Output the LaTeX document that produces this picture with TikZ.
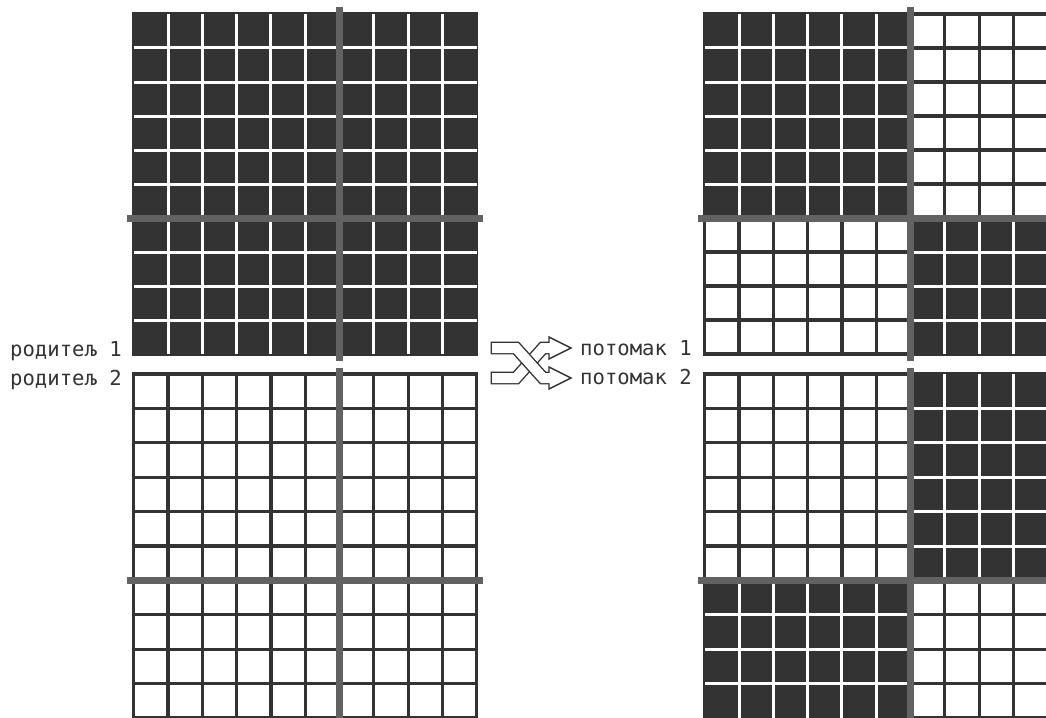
\documentclass[tikz,border=0pt]{standalone}
\usepackage{fontspec}
\newfontfamily\labelfont{DejaVu Sans Mono}
\definecolor{darkcell}{HTML}{333333}
\definecolor{thickgray}{HTML}{626262}
\tikzset{
  darkline/.style={line width=3.2pt, draw=darkcell, line cap=butt},
  lightline/.style={line width=3pt, draw=white, line cap=butt},
  thickline/.style={line width=7pt, draw=thickgray, line cap=butt},
  bandout/.style={line width=12.8pt, draw=darkcell, line join=miter, line cap=butt},
  bandin/.style={line width=10pt, draw=white, line join=miter, line cap=butt},
  headshape/.style={fill=white, draw=darkcell, line width=1.4pt, line join=miter},
  lbl/.style={font=\labelfont\fontsize{20.6}{24}\selectfont, text=darkcell, inner sep=0pt}
}
% #1 X0, #2 PX, #3 Y0, #4 PY, #5 c1, #6 c2, #7 r1, #8 r2 (line indices)
\newcommand{\whitequad}[8]{%
  \pgfmathsetmacro{\qxa}{#1+#2*#5}%
  \pgfmathsetmacro{\qxb}{#1+#2*#6}%
  \pgfmathsetmacro{\qya}{#3+#4*#7}%
  \pgfmathsetmacro{\qyb}{#3+#4*#8}%
  \fill[white] (\qxa,\qya) rectangle (\qxb,\qyb);
  \foreach \i in {#5,...,#6}{\draw[darkline] ({#1+#2*\i},\qya-1.6) -- ({#1+#2*\i},\qyb+1.6);}
  \foreach \j in {#7,...,#8}{\draw[darkline] (\qxa-1.6,{#3+#4*\j}) -- (\qxb+1.6,{#3+#4*\j});}
}
\newcommand{\darkquad}[8]{%
  \pgfmathsetmacro{\qxa}{#1+#2*#5}%
  \pgfmathsetmacro{\qxb}{#1+#2*#6}%
  \pgfmathsetmacro{\qya}{#3+#4*#7}%
  \pgfmathsetmacro{\qyb}{#3+#4*#8}%
  \pgfmathtruncatemacro{\qca}{#5+1}%
  \pgfmathtruncatemacro{\qcb}{#6-1}%
  \pgfmathtruncatemacro{\qra}{#7+1}%
  \pgfmathtruncatemacro{\qrb}{#8-1}%
  \fill[darkcell] (\qxa-1.6,\qya-1.6) rectangle (\qxb+1.6,\qyb+1.6);
  \foreach \i in {\qca,...,\qcb}{\draw[lightline] ({#1+#2*\i},\qya) -- ({#1+#2*\i},\qyb);}
  \foreach \j in {\qra,...,\qrb}{\draw[lightline] (\qxa,{#3+#4*\j}) -- (\qxb,{#3+#4*\j});}
}
% thick divider lines: #1 X0, #2 PX, #3 Y0, #4 PY
\newcommand{\dividers}[4]{%
  \draw[thickline] ({#1+#2*6},{#3-6.5}) -- ({#1+#2*6},{#3+#4*10+6.5});
  \draw[thickline] ({#1-6.5},{#3+#4*6}) -- ({#1+#2*10+6.5},{#3+#4*6});
}
\begin{document}
\begin{tikzpicture}[x=1pt,y=-1pt]
\clip (0,0) rectangle (1046,717);
\fill[white] (0,0) rectangle (1046,717);

% parent 1 (all dark)
\darkquad{133.75}{34.3}{14}{34}{0}{6}{0}{6}
\darkquad{133.75}{34.3}{14}{34}{6}{10}{0}{6}
\darkquad{133.75}{34.3}{14}{34}{0}{6}{6}{10}
\darkquad{133.75}{34.3}{14}{34}{6}{10}{6}{10}
\dividers{133.75}{34.3}{14}{34}

% parent 2 (all white)
\whitequad{133.75}{34.3}{374}{34.4}{0}{6}{0}{6}
\whitequad{133.75}{34.3}{374}{34.4}{6}{10}{0}{6}
\whitequad{133.75}{34.3}{374}{34.4}{0}{6}{6}{10}
\whitequad{133.75}{34.3}{374}{34.4}{6}{10}{6}{10}
\dividers{133.75}{34.3}{374}{34.4}

% offspring 1
\darkquad{704.75}{34.3}{14}{34}{0}{6}{0}{6}
\whitequad{704.75}{34.3}{14}{34}{6}{10}{0}{6}
\whitequad{704.75}{34.3}{14}{34}{0}{6}{6}{10}
\darkquad{704.75}{34.3}{14}{34}{6}{10}{6}{10}
\dividers{704.75}{34.3}{14}{34}

% offspring 2
\whitequad{704.75}{34.3}{374}{34.4}{0}{6}{0}{6}
\darkquad{704.75}{34.3}{374}{34.4}{6}{10}{0}{6}
\darkquad{704.75}{34.3}{374}{34.4}{0}{6}{6}{10}
\whitequad{704.75}{34.3}{374}{34.4}{6}{10}{6}{10}
\dividers{704.75}{34.3}{374}{34.4}

% labels
\node[lbl, anchor=base east] (p1) at (122,356) {родитељ 1};
\node[lbl, anchor=base east] (p2) at (122,385) {родитељ 2};
\node[lbl, anchor=base west] (c1) at (580,355) {потомак 1};
\node[lbl, anchor=base west] (c2) at (580,384) {потомак 2};

% crossover arrows
\coordinate (bs) at (490.7,378);
\coordinate (bs2) at (492.1,378);
\coordinate (bk1) at (516,378);
\coordinate (bk2) at (543,348);
\coordinate (be) at (552,348);
\coordinate (be2) at (553,348);
\coordinate (as) at (490.7,348);
\coordinate (as2) at (492.1,348);
\coordinate (ak1) at (516,348);
\coordinate (ak2) at (543,378);
\coordinate (ae) at (552,378);
\coordinate (ae2) at (553,378);

\draw[bandout] (bs) -- (bk1) -- (bk2) -- (be);
\draw[headshape] (549,337) -- (571,348) -- (549,359) -- cycle;
\draw[bandin] (bs2) -- (bk1) -- (bk2) -- (be2);

\draw[bandout] (as) -- (ak1) -- (ak2) -- (ae);
\draw[headshape] (549,367) -- (571,378) -- (549,389) -- cycle;
\draw[bandin] (as2) -- (ak1) -- (ak2) -- (ae2);
\end{tikzpicture}
\end{document}
